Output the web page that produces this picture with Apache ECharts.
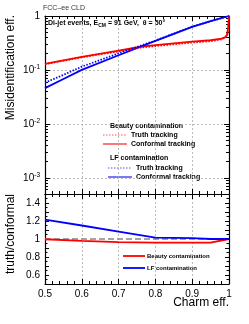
<!DOCTYPE html>
<html><head><meta charset="utf-8">
<script src="https://cdn.jsdelivr.net/npm/echarts@6/dist/echarts.min.js"></script>
<style>html,body{margin:0;padding:0;background:#fff}#c{width:249px;height:324px}</style>
</head><body><div id="c"></div>
<script>
// ---- data ----
const effBeauty = [0.5, 0.6, 0.7, 0.76, 0.8, 0.9, 0.95, 0.98, 0.99, 0.995, 0.998, 1.0];
const beautyConformal = [0.129, 0.174, 0.229, 0.269, 0.288, 0.335, 0.355, 0.38, 0.407, 0.447, 0.63, 1.0];
const beautyTruth = [0.128, 0.171, 0.221, 0.259, 0.277, 0.322, 0.341, 0.37, 0.40, 0.44, 0.63, 1.0];
const effLF = [0.5, 0.55, 0.6, 0.7, 0.8, 0.9, 0.95, 1.0];
const lfConformal = [0.046, 0.068, 0.1, 0.187, 0.345, 0.63, 0.8, 1.0];
const lfTruth = [0.058, 0.081, 0.115, 0.202, 0.35, 0.635, 0.8, 1.0];
const ratioEff = [0.5, 0.6, 0.7, 0.8, 0.9, 0.95, 1.0];
const ratioBeauty = [0.997, 0.98, 0.966, 0.96, 0.96, 0.96, 1.0];
const ratioLF = [1.215, 1.15, 1.083, 1.015, 1.01, 1.0, 1.0];
const refEff = [0.5, 1.0];
const refRatio = [1, 1];
const xTicks = ['0.5', '0.6', '0.7', '0.8', '0.9', '1'];
const ratioTicks = ['0.6', '0.8', '1', '1.2', '1.4'];

const zip = (a, b) => a.map((v, i) => [v, b[i]]);
const FONT = 'Liberation Sans, Arial, sans-serif';
const RED = '#ff0000', BLUE = '#0000ff';

const chart = echarts.init(document.getElementById('c'), null, {renderer: 'canvas'});

const tickStyle = {show: true, inside: true, length: 5, lineStyle: {color: '#000', width: 1}};
const minorStyle = {show: true, length: 3, lineStyle: {color: '#000', width: 1}};
const gridDash = {show: true, lineStyle: {color: '#aaa', type: [2, 2], width: 0.8}};
const axLine = {show: true, onZero: false, lineStyle: {color: '#000', width: 1.2}};

function xAx(gi, pos, labels) {
  return {
    type: 'value', gridIndex: gi, position: pos, min: 0.5, max: 1, interval: 0.1,
    axisLine: axLine, axisTick: tickStyle, minorTick: Object.assign({splitNumber: 5}, minorStyle),
    splitLine: (pos === 'bottom') ? gridDash : {show: false},
    axisLabel: labels ? {show: true, fontFamily: FONT, fontSize: 10, color: '#000', margin: 5,
      formatter: v => { const s = xTicks.find(t => Math.abs(parseFloat(t) - v) < 1e-6); return s || ''; }} : {show: false}
  };
}

function ratioAx(pos, labels) {
  return {
    type: 'value', gridIndex: 1, position: pos, min: 0.5, max: 1.5, interval: 0.1,
    axisLine: axLine,
    axisTick: {show: true, inside: true, length: 4, lineStyle: {color: '#000', width: 1}},
    minorTick: {show: true, splitNumber: 2, length: 2.5, lineStyle: {color: '#000', width: 1}},
    splitLine: {show: false},
    axisLabel: labels ? {fontFamily: FONT, fontSize: 10, color: '#000', margin: 5,
      formatter: v => { const s = ratioTicks.find(t => Math.abs(parseFloat(t) - v) < 1e-6); return s || ''; }} : {show: false}
  };
}

const option = {
  animation: false,
  backgroundColor: '#fff',
  grid: [
    {left: 45, top: 16, width: 184, height: 178},
    {left: 45, top: 194, width: 184, height: 90}
  ],
  xAxis: [
    xAx(0, 'bottom', false), xAx(0, 'top', false),
    xAx(1, 'bottom', true), xAx(1, 'top', false)
  ],
  yAxis: [
    {
      type: 'log', gridIndex: 0, position: 'left', min: 5e-4, max: 1, logBase: 10,
      axisLine: axLine, axisTick: tickStyle, minorTick: Object.assign({splitNumber: 9}, minorStyle),
      splitLine: gridDash,
      axisLabel: {fontFamily: FONT, fontSize: 10, color: '#000', margin: 5,
        formatter: v => {
          const l = Math.log10(v);
          if (Math.abs(l - Math.round(l)) > 1e-6) return '';
          const e = Math.round(l);
          if (e === 0) return '{b|1}';
          return '{b|10}{s|' + e + '}';
        },
        rich: {b: {fontFamily: FONT, fontSize: 10, color: '#000'},
               s: {fontFamily: FONT, fontSize: 6.5, color: '#000', verticalAlign: 'top', padding: [0, 0, 6, 0]}}
      }
    },
    {
      type: 'log', gridIndex: 0, position: 'right', min: 5e-4, max: 1, logBase: 10,
      axisLine: axLine, axisTick: tickStyle, minorTick: Object.assign({splitNumber: 9}, minorStyle),
      splitLine: {show: false}, axisLabel: {show: false}
    },
    ratioAx('left', true),
    ratioAx('right', false)
  ],
  series: [
    {name: 'Beauty truth', type: 'line', xAxisIndex: 0, yAxisIndex: 0, data: zip(effBeauty, beautyTruth),
     showSymbol: false, lineStyle: {color: RED, width: 1.8, type: [1.5, 1.5]}, z: 3},
    {name: 'Beauty conformal', type: 'line', xAxisIndex: 0, yAxisIndex: 0, data: zip(effBeauty, beautyConformal),
     showSymbol: false, lineStyle: {color: RED, width: 1.8}, z: 2},
    {name: 'LF truth', type: 'line', xAxisIndex: 0, yAxisIndex: 0, data: zip(effLF, lfTruth),
     showSymbol: false, lineStyle: {color: BLUE, width: 1.8, type: [1.5, 1.5]}, z: 3},
    {name: 'LF conformal', type: 'line', xAxisIndex: 0, yAxisIndex: 0, data: zip(effLF, lfConformal),
     showSymbol: false, lineStyle: {color: BLUE, width: 1.8}, z: 2},
    {name: 'ref', type: 'line', xAxisIndex: 2, yAxisIndex: 2, data: zip(refEff, refRatio),
     showSymbol: false, lineStyle: {color: '#888', width: 1.5, type: [6, 3]}, z: 2},
    {name: 'Beauty ratio', type: 'line', xAxisIndex: 2, yAxisIndex: 2, data: zip(ratioEff, ratioBeauty),
     showSymbol: false, lineStyle: {color: RED, width: 1.8}, z: 3},
    {name: 'LF ratio', type: 'line', xAxisIndex: 2, yAxisIndex: 2, data: zip(ratioEff, ratioLF),
     showSymbol: false, lineStyle: {color: BLUE, width: 1.8}, z: 3}
  ],
  graphic: [
    {type: 'text', left: 43, top: 5, style: {text: 'FCC\u2013ee CLD', font: '7px ' + FONT, fill: '#333'}},
    {type: 'text', left: 48, top: 20, style: {
      text: '{b|Di-jet events, E}{s|CM}{b| = 91 GeV,  \u03b8 = 50\u00b0}',
      rich: {b: {font: 'bold 7px ' + FONT, fill: '#000'},
             s: {font: 'bold 5px ' + FONT, fill: '#000', verticalAlign: 'bottom', padding: [4, 0, 0, 0]}}}},
    // y titles
    {type: 'text', x: 11, y: 15, rotation: Math.PI / 2, style: {text: 'Misidentification eff.', font: '12px ' + FONT, fill: '#000', align: 'right', verticalAlign: 'middle'}},
    {type: 'text', x: 11, y: 194, rotation: Math.PI / 2, style: {text: 'truth/conformal', font: '12px ' + FONT, fill: '#000', align: 'right', verticalAlign: 'middle'}},
    {type: 'text', x: 229, y: 303, style: {text: 'Charm eff.', font: '12px ' + FONT, fill: '#000', align: 'right', verticalAlign: 'middle'}},
    // top legend
    {type: 'text', x: 110, y: 126, style: {text: 'Beauty contamination', font: 'bold 7px ' + FONT, fill: '#000', verticalAlign: 'middle'}},
    {type: 'line', shape: {x1: 103, y1: 135, x2: 127, y2: 135}, style: {stroke: '#ff5555', lineWidth: 1.2, lineDash: [1.5, 1.5]}},
    {type: 'text', x: 131, y: 135, style: {text: 'Truth tracking', font: 'bold 7px ' + FONT, fill: '#000', verticalAlign: 'middle'}},
    {type: 'line', shape: {x1: 103, y1: 144, x2: 127, y2: 144}, style: {stroke: '#ff7777', lineWidth: 2}},
    {type: 'text', x: 131, y: 144, style: {text: 'Conformal tracking', font: 'bold 7px ' + FONT, fill: '#000', verticalAlign: 'middle'}},
    {type: 'text', x: 110, y: 158, style: {text: 'LF contamination', font: 'bold 7px ' + FONT, fill: '#000', verticalAlign: 'middle'}},
    {type: 'line', shape: {x1: 108, y1: 168, x2: 132, y2: 168}, style: {stroke: '#5555ff', lineWidth: 1.2, lineDash: [1.5, 1.5]}},
    {type: 'text', x: 136, y: 168, style: {text: 'Truth tracking', font: 'bold 7px ' + FONT, fill: '#000', verticalAlign: 'middle'}},
    {type: 'line', shape: {x1: 108, y1: 177, x2: 132, y2: 177}, style: {stroke: '#7777ff', lineWidth: 2}},
    {type: 'text', x: 136, y: 177, style: {text: 'Conformal tracking', font: 'bold 7px ' + FONT, fill: '#000', verticalAlign: 'middle'}},
    // bottom legend
    {type: 'line', shape: {x1: 123, y1: 256, x2: 145, y2: 256}, style: {stroke: RED, lineWidth: 1.8}},
    {type: 'text', x: 147, y: 256, style: {text: 'Beauty contamination', font: 'bold 6px ' + FONT, fill: '#000', verticalAlign: 'middle'}},
    {type: 'line', shape: {x1: 123, y1: 268, x2: 145, y2: 268}, style: {stroke: BLUE, lineWidth: 1.8}},
    {type: 'text', x: 147, y: 268, style: {text: 'LF contamination', font: 'bold 6px ' + FONT, fill: '#000', verticalAlign: 'middle'}}
  ]
};
chart.setOption(option);
</script></body></html>
